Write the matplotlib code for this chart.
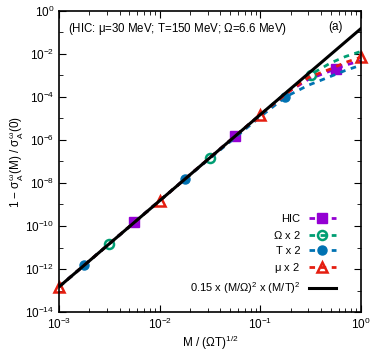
import matplotlib.pyplot as plt
import matplotlib.ticker as mticker

# data (x = M/(Omega T)^1/2, y = 1 - sigma ratio)
x_hic = [1e-3, 5.6e-3, 5.6e-2, 0.1, 0.2, 0.3, 0.56, 0.7, 1.0]
y_hic = [1.5e-13, 1.5e-10, 1.5e-6, 1.5e-5, 2.0e-4, 6.5e-4, 2.0e-3, 3.0e-3, 4.8e-3]
mk_hic = [1, 2, 6]

x_om = [1e-3, 3.16e-3, 3.16e-2, 0.1, 0.2, 0.316, 0.5, 0.7, 1.0]
y_om = [1.5e-13, 1.5e-11, 1.5e-7, 1.5e-5, 2.3e-4, 1.1e-3, 3.8e-3, 7.5e-3, 1.3e-2]
mk_om = [1, 2, 5]

x_t = [1e-3, 1.78e-3, 1.78e-2, 0.1, 0.178, 0.3, 0.5, 0.7, 1.0]
y_t = [1.5e-13, 1.5e-12, 1.5e-8, 1.2e-5, 1.0e-4, 3.5e-4, 9.0e-4, 1.7e-3, 3.0e-3]
mk_t = [1, 2, 4]

x_mu = [1e-3, 1e-2, 0.1, 0.2, 0.3, 0.5, 0.7, 1.0]
y_mu = [1.5e-13, 1.5e-9, 1.5e-5, 2.0e-4, 8.0e-4, 2.0e-3, 4.0e-3, 7.0e-3]
mk_mu = [0, 1, 2, 7]

x_fit = [1e-3, 1.0]
y_fit = [1.5e-13, 0.15]

x_ticks = [1e-3, 1e-2, 1e-1, 1.0]
y_ticks = [1e-14, 1e-12, 1e-10, 1e-8, 1e-6, 1e-4, 1e-2, 1.0]

plt.rcParams['font.family'] = ['Liberation Sans', 'DejaVu Sans']
plt.rcParams['mathtext.fontset'] = 'custom'
plt.rcParams['mathtext.rm'] = 'Liberation Sans'
plt.rcParams['mathtext.it'] = 'Liberation Sans'

fig = plt.figure(figsize=(3.74, 3.51), dpi=100)
ax = fig.add_axes([0.158, 0.111, 0.807, 0.858])

ls = (0, (2, 2))
ax.plot(x_hic, y_hic, color='#9400d3', ls=ls, lw=2, marker='s', ms=6.5,
        markevery=mk_hic, clip_on=False, label='HIC')
ax.plot(x_om, y_om, color='#009e73', ls=ls, lw=2, marker='o', ms=6.5,
        mfc='none', mew=1.8, markevery=mk_om, clip_on=False, label=r'$\Omega$ x 2')
ax.plot(x_t, y_t, color='#0072b2', ls=ls, lw=2, marker='o', ms=6.5,
        markevery=mk_t, clip_on=False, label='T x 2')
ax.plot(x_mu, y_mu, color='#e51e10', ls=ls, lw=2, marker='^', ms=7.5,
        mfc='none', mew=1.8, markevery=mk_mu, clip_on=False, label=r'$\mu$ x 2')
ax.plot(x_fit, y_fit, color='black', lw=2.2,
        label=r'0.15 x (M/$\Omega$)$^2$ x (M/T)$^2$')

ax.set_xscale('log')
ax.set_yscale('log')
ax.set_xlim(1e-3, 1)
ax.set_ylim(1e-14, 1)

ax.yaxis.set_major_locator(mticker.FixedLocator(y_ticks))
ax.yaxis.set_minor_locator(mticker.FixedLocator([t * 10 for t in y_ticks[:-1]]))
ax.yaxis.set_minor_formatter(mticker.NullFormatter())
ax.xaxis.set_major_locator(mticker.FixedLocator(x_ticks))
ax.xaxis.set_minor_locator(mticker.FixedLocator([t * k for t in x_ticks[:-1] for k in range(2, 10)]))
ax.xaxis.set_minor_formatter(mticker.NullFormatter())
ax.xaxis.set_major_formatter(mticker.LogFormatterSciNotation())
ax.yaxis.set_major_formatter(mticker.LogFormatterSciNotation())

ax.tick_params(which='both', direction='in', top=True, right=True, labelsize=8.5)
ax.tick_params(which='major', length=5, width=0.8)
ax.tick_params(which='minor', length=3, width=0.6)
for s in ax.spines.values():
    s.set_linewidth(1.2)

ax.set_xlabel(r'M / ($\Omega$T)$^{1/2}$', fontsize=8.5, labelpad=1)
ax.set_ylabel(r'1 $-$ $\sigma_A^{\omega}$(M) / $\sigma_A^{\omega}$(0)', fontsize=8.5, labelpad=0)

ax.text(0.03, 0.965, r'(HIC: $\mu$=30 MeV; T=150 MeV; $\Omega$=6.6 MeV)',
        transform=ax.transAxes, fontsize=8.3, va='top')
ax.text(0.94, 0.965, '(a)', transform=ax.transAxes, fontsize=8.5, va='top', ha='right')

ax.legend(loc='lower right', frameon=False, markerfirst=False, fontsize=8,
          handlelength=2.4, labelspacing=0.45, bbox_to_anchor=(0.95, 0.02))

fig.savefig('out.png', dpi=100)
